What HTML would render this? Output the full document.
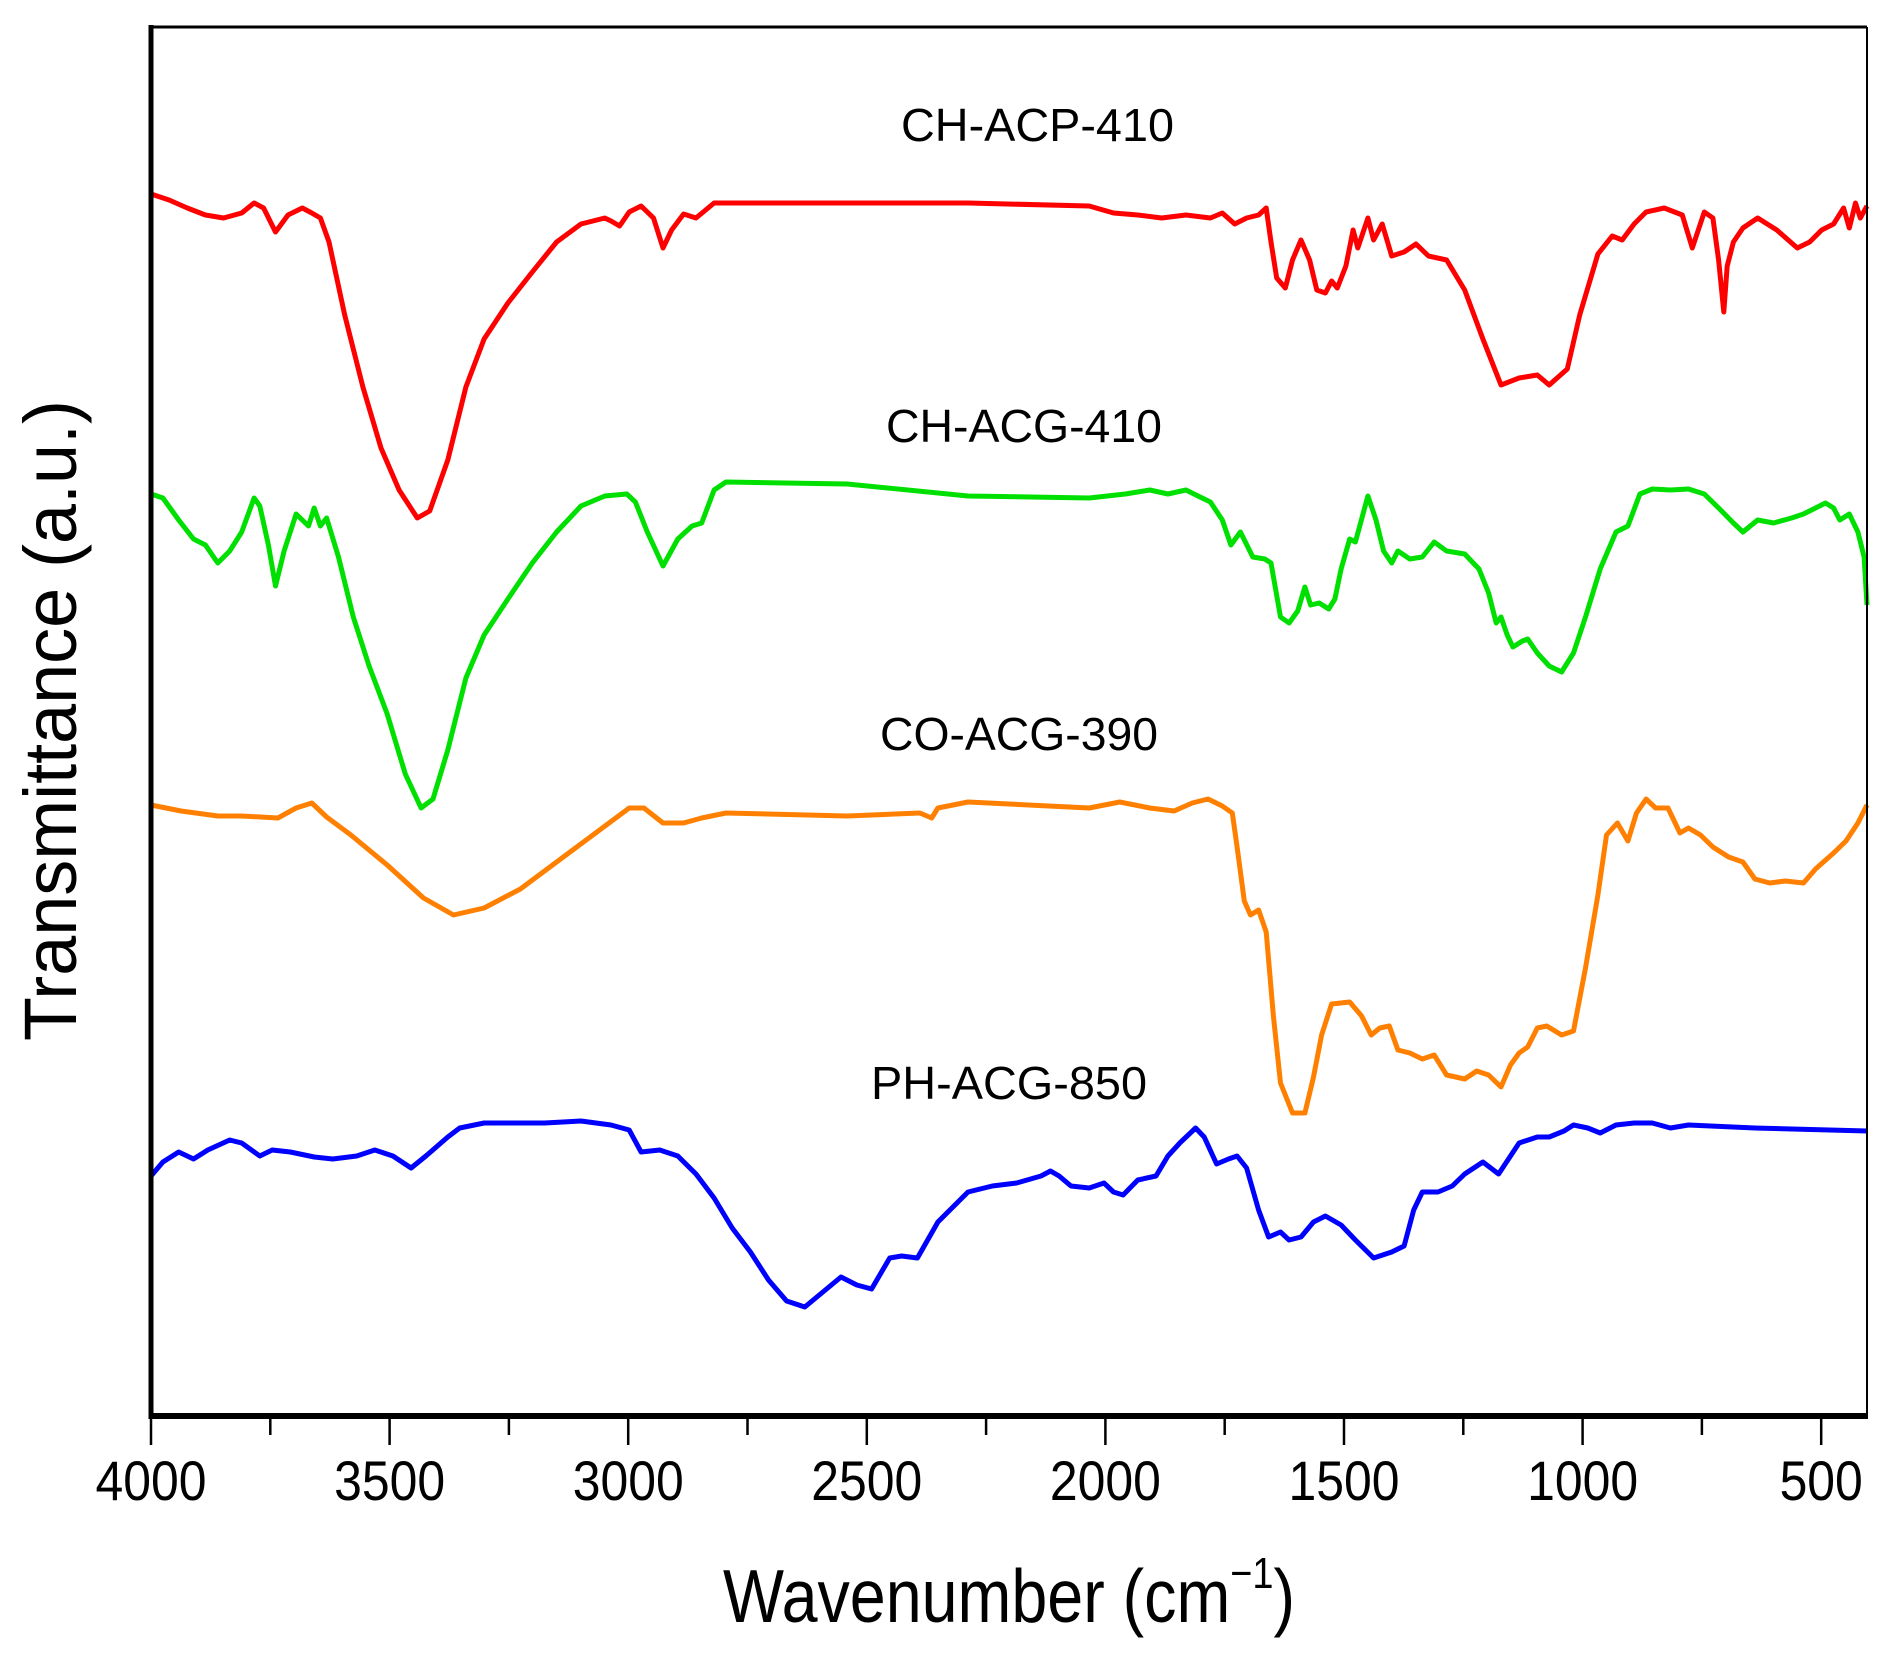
<!DOCTYPE html>
<html><head><meta charset="utf-8"><title>FTIR spectra</title>
<style>html,body{margin:0;padding:0;background:#fff;}svg{display:block;}</style></head>
<body>
<svg id="chart" width="1888" height="1657" viewBox="0 0 1888 1657" xmlns="http://www.w3.org/2000/svg" font-family="'Liberation Sans', Arial, sans-serif">
  <g id="plot"></g>
  <g id="axes"></g>
  <text x="723" y="1622" font-size="75" textLength="572" lengthAdjust="spacingAndGlyphs">Wavenumber (cm<tspan dy="-34" font-size="44">−1</tspan><tspan dy="34">)</tspan></text>
  <text transform="translate(76,1041) rotate(-90)" font-size="74" textLength="641" lengthAdjust="spacingAndGlyphs">Transmittance (a.u.)</text>
  <text x="901" y="141" font-size="46" textLength="273" lengthAdjust="spacingAndGlyphs">CH-ACP-410</text>
  <text x="886" y="442" font-size="46" textLength="276" lengthAdjust="spacingAndGlyphs">CH-ACG-410</text>
  <text x="880" y="750" font-size="46" textLength="278" lengthAdjust="spacingAndGlyphs">CO-ACG-390</text>
  <text x="871" y="1099" font-size="46" textLength="276" lengthAdjust="spacingAndGlyphs">PH-ACG-850</text>
</svg>
<script>
const xTicks = [4000, 3500, 3000, 2500, 2000, 1500, 1000, 500];
const xMinorTicks = [3750, 3250, 2750, 2250, 1750, 1250, 750];
const xDomain = [4000, 404];
const yDomain = [0, 1389];

const redW = [4000,3962,3924,3886,3848,3810,3784,3764,3739,3713,3683,3663,3645,3627,3594,3556,3518,3480,3442,3416,3378,3340,3302,3252,3201,3150,3099,3049,3036,3018,2998,2973,2947,2927,2909,2884,2858,2820,2770,2541,2288,2034,1983,1932,1882,1831,1780,1755,1729,1704,1679,1663,1653,1641,1623,1608,1590,1572,1557,1539,1526,1514,1496,1481,1471,1450,1438,1420,1400,1374,1349,1323,1285,1247,1209,1171,1133,1095,1070,1032,1006,968,938,917,892,867,829,791,770,745,727,715,704,697,684,664,633,593,550,524,499,474,453,441,428,418,404];
const redT = [1222,1216,1208,1201,1198,1203,1213,1208,1184,1201,1208,1203,1198,1174,1101,1029,968,926,898,905,956,1029,1077,1113,1144,1174,1192,1198,1195,1190,1204,1210,1198,1168,1186,1202,1198,1213,1213,1213,1213,1210,1203,1201,1198,1201,1198,1203,1192,1198,1201,1208,1174,1138,1128,1156,1176,1156,1126,1123,1135,1128,1150,1186,1168,1198,1176,1192,1160,1164,1172,1160,1156,1126,1077,1031,1038,1041,1031,1047,1101,1162,1180,1176,1192,1204,1208,1201,1168,1204,1198,1156,1104,1150,1174,1188,1198,1186,1168,1174,1186,1192,1208,1188,1213,1198,1210];

const greenW = [4000,3975,3942,3911,3886,3860,3835,3810,3784,3772,3754,3739,3721,3696,3670,3658,3645,3632,3607,3576,3543,3505,3467,3434,3409,3378,3340,3302,3252,3201,3150,3099,3049,3003,2985,2960,2927,2896,2866,2846,2820,2795,2541,2288,2034,1958,1907,1869,1831,1806,1780,1755,1737,1717,1691,1666,1653,1633,1615,1597,1582,1570,1552,1532,1519,1506,1488,1476,1450,1433,1417,1400,1387,1362,1336,1311,1285,1247,1217,1197,1181,1171,1158,1146,1126,1115,1095,1070,1044,1019,994,963,930,905,880,854,816,778,745,715,684,664,633,600,562,537,512,491,474,461,441,423,410,404];
const greenT = [922,918,896,877,871,853,865,884,918,910,871,830,865,902,890,908,890,898,859,799,750,702,642,608,617,666,738,781,817,853,884,910,920,922,914,884,850,877,890,893,926,934,932,920,918,922,926,922,926,920,914,896,871,884,859,857,853,799,793,805,829,811,813,807,817,847,877,874,920,896,865,853,865,857,859,874,865,862,847,823,793,799,781,769,775,777,763,750,744,763,799,847,884,890,922,927,926,927,922,908,893,884,896,893,898,902,908,913,908,896,902,884,859,811];

const orangeW = [4000,3937,3860,3810,3734,3696,3663,3632,3581,3505,3429,3366,3302,3226,3150,3074,2998,2967,2927,2884,2846,2795,2541,2389,2364,2351,2288,2161,2034,1970,1907,1856,1818,1785,1755,1734,1724,1709,1696,1679,1663,1648,1633,1608,1582,1564,1547,1526,1488,1463,1443,1425,1405,1387,1362,1336,1311,1285,1247,1222,1197,1171,1151,1133,1115,1095,1075,1044,1019,994,968,950,927,905,887,867,847,821,796,778,753,727,694,664,639,608,575,537,512,474,448,423,404];
const orangeT = [611,605,600,600,598,608,613,599,581,551,518,501,508,527,554,581,608,608,593,593,598,603,600,603,598,608,614,611,608,614,608,605,613,617,610,603,569,515,501,506,484,400,333,303,303,339,381,412,414,400,381,388,390,366,363,357,361,341,337,345,341,329,351,363,369,388,390,381,385,448,521,581,593,575,603,617,608,608,583,588,581,569,559,554,537,533,535,533,547,563,575,593,611];

const blueW = [4000,3975,3942,3911,3881,3835,3810,3772,3746,3708,3658,3619,3569,3531,3493,3455,3424,3378,3353,3302,3175,3099,3036,2998,2973,2934,2896,2858,2820,2782,2744,2706,2668,2630,2592,2554,2521,2490,2452,2427,2394,2351,2288,2237,2186,2135,2115,2097,2072,2034,2003,1983,1963,1932,1894,1869,1844,1811,1793,1767,1742,1724,1704,1679,1658,1633,1615,1590,1564,1539,1506,1476,1438,1400,1374,1354,1336,1303,1273,1247,1209,1176,1151,1133,1095,1070,1039,1019,989,963,930,892,854,816,778,639,404];
const blueT = [240,254,264,257,266,276,273,260,266,264,259,257,260,266,260,248,260,279,288,293,293,295,291,286,264,266,260,242,218,188,164,136,115,109,124,139,131,127,158,160,158,194,224,230,233,240,245,240,230,228,233,224,221,236,240,260,273,288,279,252,257,260,248,206,179,184,176,179,194,200,191,176,158,164,170,206,224,224,230,242,254,242,260,273,279,279,285,291,288,283,291,293,293,288,291,288,285];

const seriesNames = ['ch-acp-410','ch-acg-410','co-acg-390','ph-acg-850'];
const seriesColors = ['#ff0000','#00e000','#ff8000','#0000ff'];
const seriesW = [redW, greenW, orangeW, blueW];
const seriesT = [redT, greenT, orangeT, blueT];

const PL = 151, PR = 1867, PT = 27, PB = 1416;
function xScale(w){ return PL + (xDomain[0]-w)/(xDomain[0]-xDomain[1])*(PR-PL); }
function yScale(v){ return PB - (v-yDomain[0])/(yDomain[1]-yDomain[0])*(PB-PT); }

const NS = 'http://www.w3.org/2000/svg';
const plot = document.getElementById('plot');
const axes = document.getElementById('axes');

for (let s = 0; s < seriesW.length; s++) {
  const W = seriesW[s], T = seriesT[s];
  let d = '';
  for (let i = 0; i < W.length; i++) {
    d += (i ? 'L' : 'M') + xScale(W[i]).toFixed(1) + ' ' + yScale(T[i]).toFixed(1);
  }
  const p = document.createElementNS(NS, 'path');
  p.setAttribute('d', d);
  p.setAttribute('fill', 'none');
  p.setAttribute('stroke', seriesColors[s]);
  p.setAttribute('stroke-width', '5');
  p.setAttribute('stroke-linejoin', 'round');
  
  
  plot.appendChild(p);
}

function line(x1,y1,x2,y2,w,name){
  const l = document.createElementNS(NS,'line');
  l.setAttribute('x1',x1);l.setAttribute('y1',y1);l.setAttribute('x2',x2);l.setAttribute('y2',y2);
  l.setAttribute('stroke','#000');l.setAttribute('stroke-width',w);
  
  
  axes.appendChild(l);
}
line(PL-1, PT, PR, PT, 3, 'top-border');
line(PR, PT, PR, PB, 2, 'right-border');
line(PL, PT-2, PL, PB+3, 5, 'y-axis-line');
line(PL-2, PB, PR+1, PB, 6, 'x-axis-line');

xTicks.forEach(function(t){
  const x = xScale(t);
  line(x, PB, x, PB+29, 2.5, 'x-major-tick');
  const tx = document.createElementNS(NS,'text');
  const label = String(t);
  tx.setAttribute('x', x);
  tx.setAttribute('y', 1500);
  tx.setAttribute('text-anchor','middle');
  tx.setAttribute('font-size','56');
  tx.setAttribute('textLength', String(label.length * 27.75));
  tx.setAttribute('lengthAdjust','spacingAndGlyphs');
  tx.textContent = label;
  
  
  axes.appendChild(tx);
});
xMinorTicks.forEach(function(t){
  const x = xScale(t);
  line(x, PB, x, PB+19, 2.5, 'x-minor-tick');
});
</script>
</body></html>
